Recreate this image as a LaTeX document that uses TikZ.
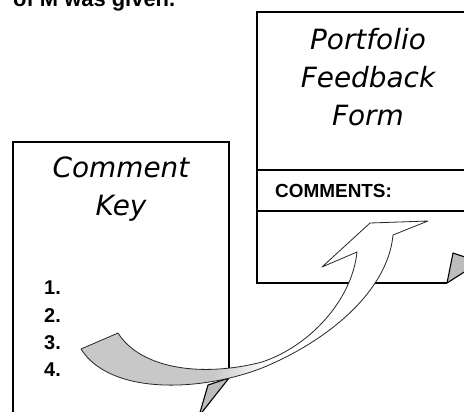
\documentclass[tikz,border=0pt]{standalone}
\usepackage{fontspec}
\usepackage{xcolor}
\usetikzlibrary{calc}
\newfontfamily\formfont{DejaVu Sans}
\newfontfamily\printfont{Liberation Sans}
\definecolor{ribbongray}{RGB}{200,200,200}
\definecolor{flapgray}{RGB}{188,188,188}
\pgfdeclarehorizontalshading{ribbonfade}{100bp}{color(0bp)=(ribbongray); color(44bp)=(ribbongray); color(52bp)=(white); color(100bp)=(white)}

\begin{document}
\begin{tikzpicture}[x=1bp, y=-1bp,
  title/.style={font=\formfont\itshape\fontsize{28}{38}\selectfont, align=center, inner sep=0},
  print/.style={font=\printfont\bfseries, inner sep=0},
  page/.style={line width=2.3bp},
  rule/.style={line width=1.3bp},
  flap/.style={fill=flapgray, draw, line width=1.1bp, line join=round}]

\clip (0,0) rectangle (464,411);
\fill[white] (0,0) rectangle (464,411);

\node[print, font=\printfont\bfseries\fontsize{22}{24}\selectfont, anchor=base west] (Tnode) at (13,6) {of M was given.};


\coordinate (f1) at (257,283);
\coordinate (f2) at (257,12);
\coordinate (f3) at (480,12);
\coordinate (f4) at (447,283);
\coordinate (f5) at (453,253);
\coordinate (f6) at (480,262);
\draw[page] (f4) -- (f1) -- (f2) -- (f3);
\draw[flap] (f4) -- (f5) -- (f6) -- cycle;

\coordinate (f7) at (257,170);
\coordinate (f8) at (257,211);
\draw[rule] (f7) -- ($(f7)+(230,0)$);
\draw[rule] (f8) -- ($(f8)+(230,0)$);

\node[title, anchor=north] (Fnode) at (368,28) {Portfolio\\Feedback\\Form};
\node[print, font=\printfont\bfseries\fontsize{19}{21}\selectfont, anchor=base west] (Cnode) at (275,197) {COMMENTS:};


\coordinate (k1) at (13,420);
\coordinate (k2) at (13,142);
\coordinate (k3) at (229,142);
\coordinate (k4) at (229,378);
\coordinate (k5) at (199,416);
\coordinate (k6) at (208,385);
\draw[page] (k1) -- (k2) -- (k3) -- (k4);
\draw[flap] (k4) -- (k6) -- (k5) -- cycle;

\node[title, anchor=north] (Knode) at (121,157) {Comment\\Key};
\node[print, font=\printfont\bfseries\fontsize{20}{27.3}\selectfont, align=left, anchor=north west] (Lnode) at (44,281) {1.\\2.\\3.\\4.};


\coordinate (a1) at (118,333);
\coordinate (a2) at (262,362);
\coordinate (a3) at (357,252);
\coordinate (a4) at (322,267);
\coordinate (a5) at (370,223);
\coordinate (a6) at (428,221);
\coordinate (a7) at (393,235);
\coordinate (a8) at (262,368);
\coordinate (a9) at (81,349);
\draw[shading=ribbonfade, draw=black!85, line width=.8bp, line join=round]
  (a1) .. controls (140,368) and (200,378) .. (a2)
  .. controls (310,346) and (352,300) .. (a3)
  -- (a4) -- (a5) -- (a6) -- (a7)
  .. controls (388,290) and (330,340) .. (a8)
  .. controls (200,392) and (110,395) .. (a9) -- cycle;

\end{tikzpicture}
\end{document}
